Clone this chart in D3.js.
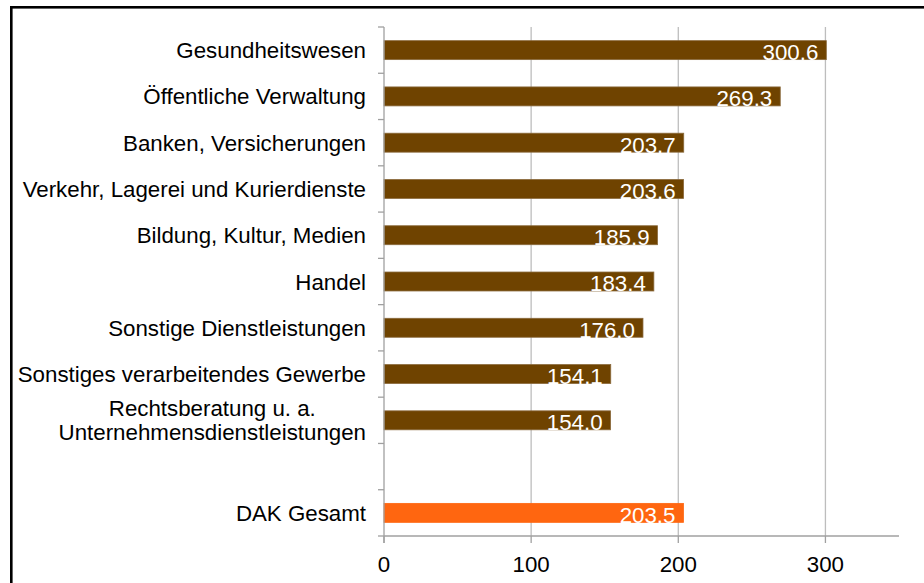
<!DOCTYPE html>
<html>
<head>
<meta charset="utf-8">
<script src="https://cdn.jsdelivr.net/npm/d3@7"></script>
<style>
  body { margin: 0; background: #fff; }
  text { font-family: "Liberation Sans", Arial, sans-serif; }
</style>
</head>
<body>
<svg id="chart" width="924" height="583"></svg>
<script>
// categories top to bottom, "" is the empty gap slot
const categories = [
  "Gesundheitswesen",
  "Öffentliche Verwaltung",
  "Banken, Versicherungen",
  "Verkehr, Lagerei und Kurierdienste",
  "Bildung, Kultur, Medien",
  "Handel",
  "Sonstige Dienstleistungen",
  "Sonstiges verarbeitendes Gewerbe",
  "Rechtsberatung u. a.|Unternehmensdienstleistungen",
  "",
  "DAK Gesamt"
];
const values = [300.6, 269.3, 203.7, 203.6, 185.9, 183.4, 176.0, 154.1, 154.0, null, 203.5];
const xTicks = [0, 100, 200, 300];

const svg = d3.select("#chart");
const plotLeft = 384, plotRight = 899, plotTop = 27, plotBottom = 536;
const fs = 22.3;

// outer frame
svg.append("rect")
  .attr("x", 11.3).attr("y", 7.3)
  .attr("width", 940).attr("height", 600)
  .attr("fill", "none").attr("stroke", "#000").attr("stroke-width", 2.6);

const x = d3.scaleLinear().domain([0, 350]).range([plotLeft, plotRight]);
const y = d3.scaleBand().domain(d3.range(categories.length)).range([plotTop, plotBottom]).padding(0);
const bw = y.bandwidth();
const barH = bw * 0.41;

// vertical grid lines
svg.append("g").selectAll("line")
  .data(xTicks.filter(t => t > 0))
  .join("line")
  .attr("x1", d => x(d)).attr("x2", d => x(d))
  .attr("y1", plotTop).attr("y2", plotBottom)
  .attr("stroke", "#bdbdbd").attr("stroke-width", 1.3);

// bars
const rows = categories.map((c, i) => ({ c, v: values[i], i }));
const barRows = rows.filter(d => d.v != null);

svg.append("g").selectAll("rect")
  .data(barRows)
  .join("rect")
  .attr("x", x(0))
  .attr("y", d => y(d.i) + bw / 2 - barH / 2)
  .attr("width", d => x(d.v) - x(0))
  .attr("height", barH)
  .attr("fill", d => d.c === "DAK Gesamt" ? "#ff6610" : "#6f4300")
  .attr("stroke", d => d.c === "DAK Gesamt" ? "#ff6610" : "#8a6a3c")
  .attr("stroke-width", 0.8);

// value labels
svg.append("g").selectAll("text")
  .data(barRows)
  .join("text")
  .attr("x", d => x(d.v) - 8)
  .attr("y", d => y(d.i) + bw / 2 + barH / 2 + 0.5)
  .attr("text-anchor", "end")
  .attr("fill", "#fff")
  .attr("font-size", fs)
  .text(d => d.v.toFixed(1));

// y axis line and ticks at slot boundaries
const axisCol = "#a0a0a0";
svg.append("line")
  .attr("x1", plotLeft).attr("x2", plotLeft).attr("y1", plotTop).attr("y2", plotBottom + 7)
  .attr("stroke", axisCol).attr("stroke-width", 1.3);
const bounds = d3.range(categories.length + 1).map(i => plotTop + i * bw);
svg.append("g").selectAll("line")
  .data(bounds)
  .join("line")
  .attr("x1", plotLeft - 6).attr("x2", plotLeft)
  .attr("y1", d => d).attr("y2", d => d)
  .attr("stroke", axisCol).attr("stroke-width", 1.3);

// x axis
svg.append("line")
  .attr("x1", plotLeft).attr("x2", plotRight).attr("y1", plotBottom).attr("y2", plotBottom)
  .attr("stroke", axisCol).attr("stroke-width", 1.3);
svg.append("g").selectAll("line")
  .data(xTicks)
  .join("line")
  .attr("x1", d => x(d)).attr("x2", d => x(d))
  .attr("y1", plotBottom).attr("y2", plotBottom + 7)
  .attr("stroke", axisCol).attr("stroke-width", 1.3);
svg.append("g").selectAll("text")
  .data(xTicks)
  .join("text")
  .attr("x", d => x(d))
  .attr("y", 572)
  .attr("text-anchor", "middle")
  .attr("font-size", fs)
  .attr("fill", "#000")
  .text(d => d);

// category labels
const labelX = 366;
rows.filter(d => d.c !== "").forEach(d => {
  const lines = d.c.split("|");
  const cy = y(d.i) + bw / 2;
  if (lines.length === 1) {
    svg.append("text")
      .attr("x", labelX).attr("y", cy + 8)
      .attr("text-anchor", "end")
      .attr("font-size", fs)
      .text(lines[0]);
  } else {
    const second = svg.append("text")
      .attr("x", labelX).attr("y", cy + 20)
      .attr("text-anchor", "end")
      .attr("font-size", fs)
      .text(lines[1]);
    const w = second.node().getComputedTextLength();
    svg.append("text")
      .attr("x", labelX - w / 2).attr("y", cy - 4)
      .attr("text-anchor", "middle")
      .attr("font-size", fs)
      .text(lines[0]);
  }
});
</script>
</body>
</html>
